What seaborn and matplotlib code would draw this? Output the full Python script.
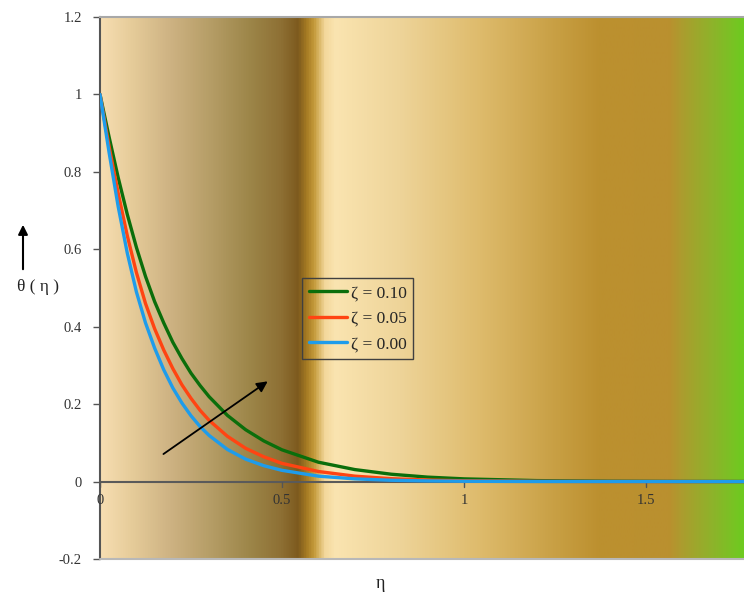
import numpy as np
import pandas as pd
import matplotlib
matplotlib.use("Agg")
import matplotlib.pyplot as plt
from matplotlib.colors import LinearSegmentedColormap
from matplotlib.lines import Line2D
from matplotlib.patches import FancyArrowPatch
import seaborn as sns

# Temperature profiles theta(eta) for three values of zeta
eta = [0.0, 0.025, 0.05, 0.075, 0.1, 0.125, 0.15, 0.175, 0.2, 0.225, 0.25, 0.275, 0.3,
       0.35, 0.4, 0.45, 0.5, 0.6, 0.7, 0.8, 0.9, 1.0, 1.2, 1.4, 1.6, 1.8]
theta_zeta_010 = [1.0, 0.89, 0.785, 0.69, 0.605, 0.53, 0.465, 0.41, 0.36, 0.318, 0.28, 0.248, 0.219,
                  0.171, 0.134, 0.105, 0.082, 0.05, 0.031, 0.019, 0.0115, 0.007, 0.0025, 0.0009,
                  0.0003, 0.0001]
theta_zeta_005 = [1.0, 0.865, 0.745, 0.635, 0.54, 0.46, 0.395, 0.34, 0.292, 0.25, 0.215, 0.184, 0.158,
                  0.117, 0.086, 0.064, 0.047, 0.026, 0.014, 0.0075, 0.004, 0.002, 0.0006, 0.0002,
                  0.00005, 0.0]
theta_zeta_000 = [1.0, 0.85, 0.71, 0.59, 0.49, 0.41, 0.345, 0.289, 0.242, 0.203, 0.17, 0.142, 0.119,
                  0.083, 0.058, 0.041, 0.029, 0.014, 0.007, 0.0034, 0.0017, 0.0008, 0.0002, 0.00005,
                  0.0, 0.0]
series_labels = ["ζ = 0.10", "ζ = 0.05", "ζ = 0.00"]
series_colors = ["#0B6E0B", "#FF4412", "#1E9CEB"]

x_ticks = [0, 0.5, 1, 1.5]
x_tick_labels = ["0", "0.5", "1", "1.5"]
y_ticks = [-0.2, 0, 0.2, 0.4, 0.6, 0.8, 1.0, 1.2]
y_tick_labels = ["-0.2", "0", "0.2", "0.4", "0.6", "0.8", "1", "1.2"]

sns.set_style("white")
plt.rcParams["font.family"] = ["Liberation Serif", "DejaVu Serif"]

W, H = 744, 597
fig = plt.figure(figsize=(W / 100, H / 100), dpi=100)
ax = fig.add_axes([100 / W, (H - 559) / H, 644 / W, 542 / H])
ax.set_facecolor("none")

xmax = 644 / 364
ax.set_xlim(0, xmax)
ax.set_ylim(-0.2, 1.2)

# Horizontal colour-band background
stops = [
    (0.000, "#F7DEB2"), (0.047, "#E6CC9A"), (0.109, "#CDB282"), (0.171, "#B59D66"),
    (0.233, "#9C8548"), (0.280, "#8E7034"), (0.307, "#7D5A1E"), (0.320, "#A57A22"),
    (0.332, "#C49A3A"), (0.349, "#F3D89C"), (0.365, "#FAE4B0"), (0.466, "#EED499"),
    (0.590, "#DEBB6C"), (0.714, "#C79E42"), (0.776, "#BC902F"), (0.885, "#BA902F"),
    (0.908, "#AA9E2E"), (0.955, "#8CB42A"), (1.000, "#6ECA20"),
]
cmap = LinearSegmentedColormap.from_list("band", stops)
grad = np.linspace(0, 1, 2048)[None, :]
ax.imshow(grad, extent=[0, xmax, -0.2, 1.2], aspect="auto", cmap=cmap,
          interpolation="bilinear", zorder=0)

# Long-form table for seaborn
frames = []
for lab, vals in zip(series_labels, [theta_zeta_010, theta_zeta_005, theta_zeta_000]):
    frames.append(pd.DataFrame({"eta": eta, "theta": vals, "series": lab}))
df = pd.concat(frames, ignore_index=True)

palette = dict(zip(series_labels, series_colors))
sns.lineplot(data=df, x="eta", y="theta", hue="series", hue_order=series_labels,
             palette=palette, estimator=None, sort=False, linewidth=2.4,
             legend=False, ax=ax, zorder=3)
ax.set_xlabel("")
ax.set_ylabel("")

# Zero line acting as the x axis
ax.axhline(0, color="#5A5A5A", lw=1.5, zorder=2)

# Frame
for s in ["right", "bottom"]:
    ax.spines[s].set_visible(False)
ax.spines["top"].set_color("#A8A8A8")
ax.spines["top"].set_linewidth(1.5)
ax.spines["left"].set_color("#555555")
ax.spines["left"].set_linewidth(1.5)
ax.plot([0, 1], [0, 0], transform=ax.transAxes, color="#B8B8B8", lw=1.5,
        clip_on=False, zorder=4)

ax.set_yticks(y_ticks)
ax.set_yticklabels(y_tick_labels)
ax.tick_params(axis="y", direction="out", length=5, width=1, color="#555555",
               pad=8, labelsize=10.5, labelcolor="#333333", left=True)

# x ticks sit on the zero line with labels beneath it
ax.set_xticks([])
for xv, lab in zip(x_ticks, x_tick_labels):
    ax.plot([xv, xv], [0, -0.013], color="#555555", lw=1, zorder=2)
    ax.text(xv, -0.05, lab, ha="center", va="center", fontsize=10.5, color="#333333")

# Trend arrow
ax.annotate("", xy=(0.467, 0.263), xytext=(0.168, 0.067),
            arrowprops=dict(arrowstyle="-|>", color="black", lw=1.3, mutation_scale=16),
            zorder=5)

handles = [Line2D([0], [0], color=c, lw=2.4) for c in series_colors]
leg = ax.legend(handles, series_labels, loc="upper left",
                bbox_to_anchor=((302 - 100) / 644, (559 - 278) / 542),
                borderaxespad=0, frameon=True, fancybox=False,
                facecolor="none", edgecolor="#404040", fontsize=12.5, handlelength=2.2,
                handletextpad=0.2, labelspacing=0.55, borderpad=0.4)
leg.get_frame().set_linewidth(1.0)
leg.get_frame().set_alpha(None)

# Axis titles
fig.text(380 / W, 1 - 583 / H, "η", ha="center", va="center", fontsize=13, color="#222222")
fig.text(38 / W, 1 - 287 / H, "θ ( η )", ha="center", va="center", fontsize=12.5, color="#222222")
fig.add_artist(FancyArrowPatch(
    (23 / W, 1 - 272 / H), (23 / W, 1 - 222 / H), transform=fig.transFigure,
    arrowstyle="-|>", mutation_scale=14, color="black", lw=1.5))

fig.savefig("out.png", dpi=100)
